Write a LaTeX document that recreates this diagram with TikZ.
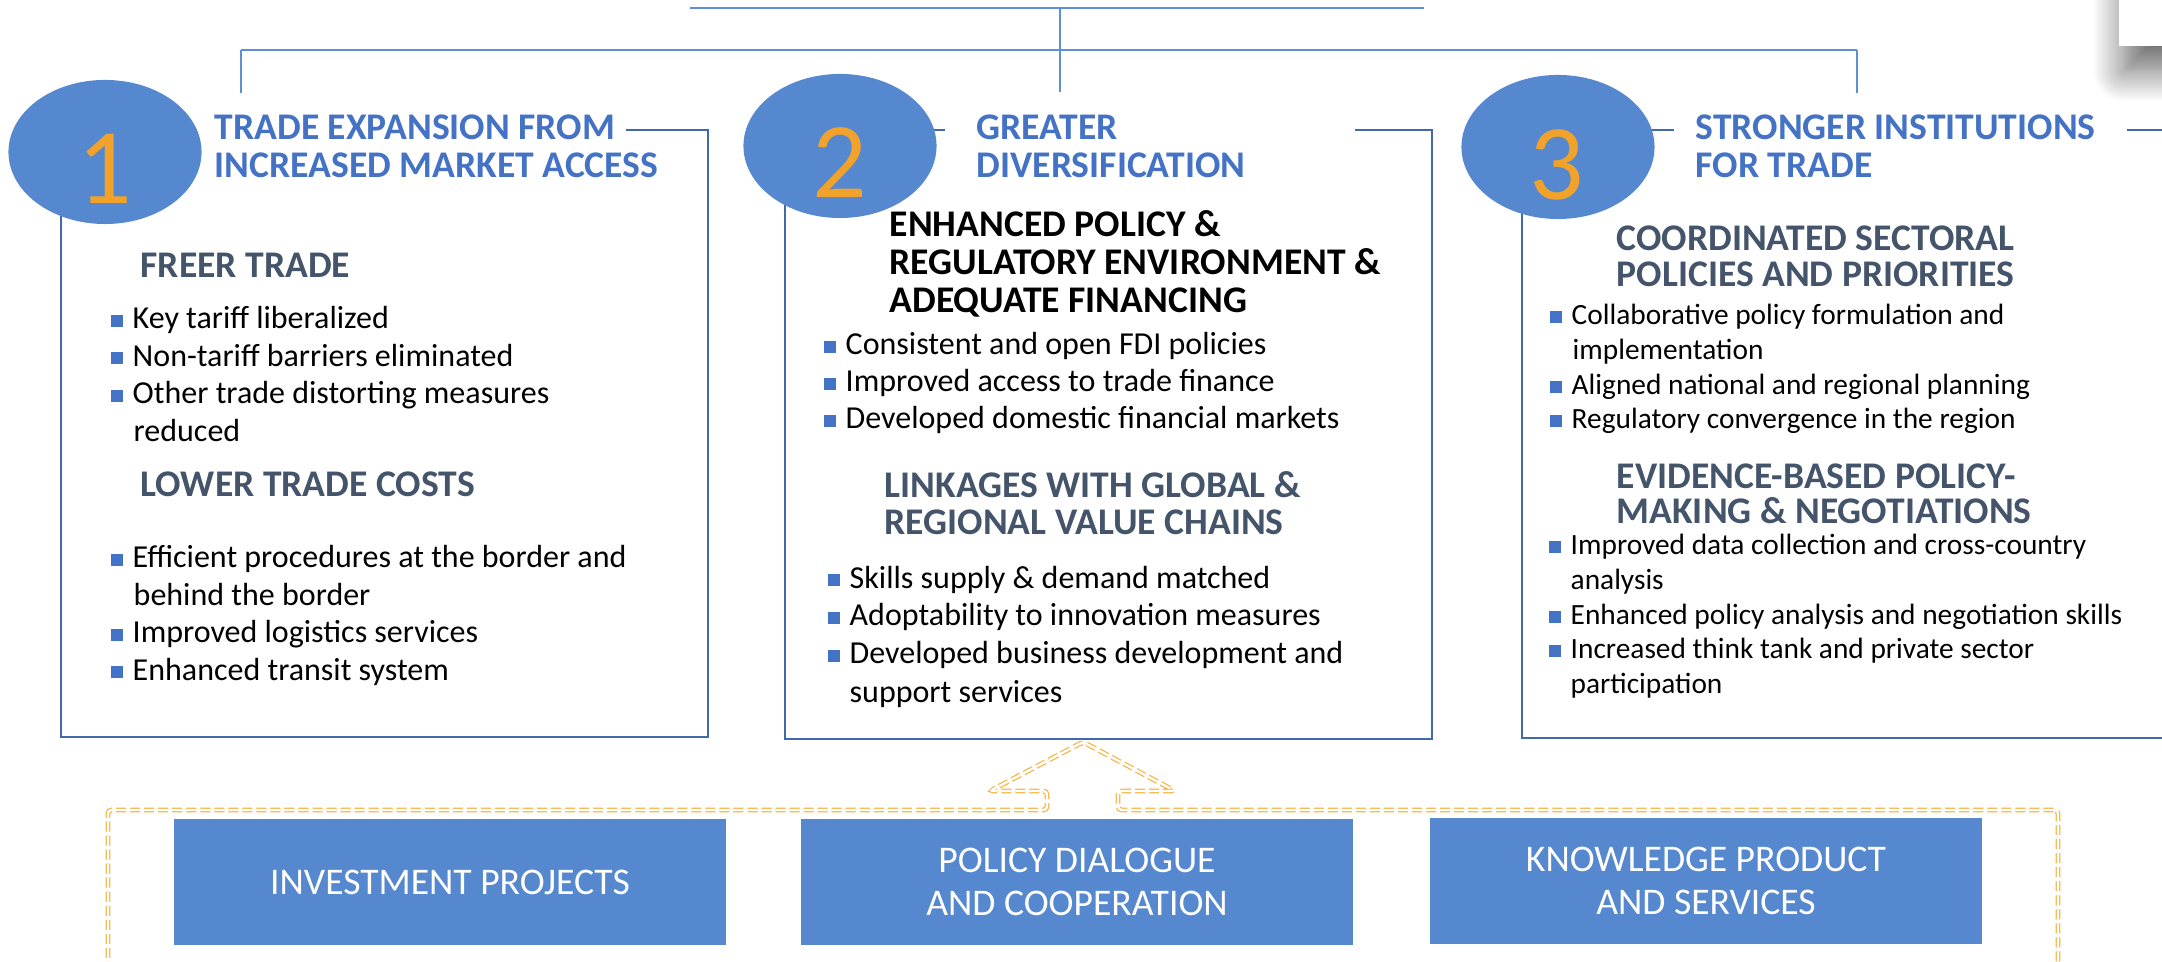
\documentclass[tikz,border=0pt]{standalone}
\usepackage{fontspec}
\setmainfont{Carlito}
\usetikzlibrary{shapes.geometric,shadows.blur}

\definecolor{circblue}{RGB}{85,136,207}
\definecolor{framblue}{RGB}{66,106,168}
\definecolor{linkblue}{RGB}{91,143,217}
\definecolor{titleblue}{RGB}{68,114,196}
\definecolor{headslate}{RGB}{68,84,106}
\definecolor{digitorange}{RGB}{240,162,42}
\definecolor{dashorange}{RGB}{248,180,62}

\newcommand{\sqb}{\textcolor{titleblue}{\rule[0.02cm]{0.12cm}{0.12cm}}\hspace{0.1cm}}

\begin{document}
\begin{tikzpicture}[x=0.01cm,y=-0.01cm,
    every node/.style={inner sep=0pt},
    boxframe/.style={draw=framblue,line width=0.8pt},
    linkline/.style={draw=linkblue,line width=0.45pt},
    circbadge/.style={ellipse,fill=circblue,minimum width=1.93cm,minimum height=1.44cm},
    digitlbl/.style={text=digitorange,font=\fontsize{30.6}{30.6}\selectfont},
    titlelbl/.style={anchor=base west,text=titleblue,font=\fontsize{10.7}{11}\selectfont\bfseries},
    headlbl/.style={anchor=base west,text=headslate,font=\fontsize{10.7}{11}\selectfont\bfseries},
    itemlbl/.style={anchor=base west,font=\fontsize{9.1}{11}\selectfont},
    smallitem/.style={anchor=base west,font=\fontsize{8.35}{10}\selectfont},
    actionbox/.style={fill=circblue,text=white,align=center,minimum width=5.52cm,minimum height=1.26cm,font=\fontsize{10.7}{12.2}\selectfont},
    supportline/.style={draw=dashorange,line width=0.34pt,double=white,double distance=0.7pt,dash pattern=on 2.85pt off 1.14pt,rounded corners=1pt}]

\useasboundingbox (0,0) rectangle (2162,962);
\clip (0,0) rectangle (2162,962);

\node[fill=white,minimum width=1cm,minimum height=1.06cm,blur shadow={shadow xshift=1.5pt,shadow yshift=-7pt,shadow blur radius=9pt,shadow blur steps=16,shadow opacity=60}] (tab) at (2169,-7) {};

\coordinate (hubL) at (690,8);
\coordinate (hubR) at (1424,8);
\coordinate (hub) at (1060,8);
\coordinate (busL) at (241,50);
\coordinate (busR) at (1857,50);
\coordinate (dropL) at (241,93);
\coordinate (dropM) at (1060,92);
\coordinate (dropR) at (1857,93);

\draw[linkline,line width=0.5pt] (hubL) -- (hubR);
\draw[linkline] (hub) -- (dropM);
\draw[linkline,line width=0.65pt] (busL) -- (busR);
\draw[linkline] (busL) -- (dropL);
\draw[linkline] (busR) -- (dropR);

\draw[boxframe] (61,130) rectangle (708,737);
\draw[boxframe] (785,130) rectangle (1432,739);
\draw[boxframe] (1522,130) rectangle (2240,738);

\fill[white] (197,112) rectangle (626,150);
\fill[white] (945,112) rectangle (1355,150);
\fill[white] (1674,112) rectangle (2127,150);

\node[circbadge] (c1) at (105,152) {};
\node[circbadge] (c2) at (840,146) {};
\node[circbadge] (c3) at (1558,147) {};
\node[digitlbl] (d1) at (105,169) {1};
\node[digitlbl] (d2) at (840,163) {2};
\node[digitlbl] (d3) at (1557,165) {3};

\node[titlelbl] (t1a) at (214,140) {TRADE EXPANSION FROM};
\node[titlelbl] (t1b) at (214,178) {INCREASED MARKET ACCESS};
\node[titlelbl] (t2a) at (976,140) {GREATER};
\node[titlelbl] (t2b) at (976,178) {DIVERSIFICATION};
\node[titlelbl] (t3a) at (1695,140) {STRONGER INSTITUTIONS};
\node[titlelbl] (t3b) at (1695,178) {FOR TRADE};

\node[headlbl] (h1a) at (140,278) {FREER TRADE};
\node[itemlbl] (i1a) at (110,329) {\sqb Key tariff liberalized};
\node[itemlbl] (i1b) at (110,366.5) {\sqb Non-tariff barriers eliminated};
\node[itemlbl] (i1c) at (110,404) {\sqb Other trade distorting measures};
\node[itemlbl] (i1d) at (133,441.5) {reduced};
\node[headlbl] (h1b) at (140,497) {LOWER TRADE COSTS};
\node[itemlbl] (i1e) at (110,568) {\sqb Efficient procedures at the border and};
\node[itemlbl] (i1f) at (133,605.5) {behind the border};
\node[itemlbl] (i1g) at (110,643) {\sqb Improved logistics services};
\node[itemlbl] (i1h) at (110,680.5) {\sqb Enhanced transit system};

\node[headlbl,text=black] (h2a) at (889,237) {ENHANCED POLICY \&};
\node[headlbl,text=black] (h2b) at (889,275) {REGULATORY ENVIRONMENT \&};
\node[headlbl,text=black] (h2c) at (889,312.5) {ADEQUATE FINANCING};
\node[itemlbl] (i2a) at (823,355) {\sqb Consistent and open FDI policies};
\node[itemlbl] (i2b) at (823,392) {\sqb Improved access to trade finance};
\node[itemlbl] (i2c) at (823,429) {\sqb Developed domestic financial markets};
\node[headlbl] (h2d) at (884,498) {LINKAGES WITH GLOBAL \&};
\node[headlbl] (h2e) at (884,535) {REGIONAL VALUE CHAINS};
\node[itemlbl] (i2d) at (827,588.5) {\sqb Skills supply \& demand matched};
\node[itemlbl] (i2e) at (827,626) {\sqb Adoptability to innovation measures};
\node[itemlbl] (i2f) at (827,664) {\sqb Developed business development and};
\node[itemlbl] (i2g) at (849,703) {support services};

\node[headlbl] (h3a) at (1616,251) {COORDINATED SECTORAL};
\node[headlbl] (h3b) at (1616,287) {POLICIES AND PRIORITIES};
\node[smallitem] (i3a) at (1549,325) {\sqb Collaborative policy formulation and};
\node[smallitem] (i3b) at (1572,360) {implementation};
\node[smallitem] (i3c) at (1549,395) {\sqb Aligned national and regional planning};
\node[smallitem] (i3d) at (1549,429) {\sqb Regulatory convergence in the region};
\node[headlbl] (h3c) at (1616,489) {EVIDENCE-BASED POLICY-};
\node[headlbl] (h3d) at (1616,524) {MAKING \& NEGOTIATIONS};
\node[smallitem] (i3e) at (1548,555) {\sqb Improved data collection and cross-country};
\node[smallitem] (i3f) at (1570,590) {analysis};
\node[smallitem] (i3g) at (1548,625) {\sqb Enhanced policy analysis and negotiation skills};
\node[smallitem] (i3h) at (1548,659) {\sqb Increased think tank and private sector};
\node[smallitem] (i3i) at (1570,694) {participation};

\draw[supportline] (108,1000) -- (108,810) -- (1047,810) -- (1047,791) -- (990,791) -- (1083,742)
    -- (1175,791) -- (1118,791) -- (1118,810) -- (2058,810) -- (2058,1000);

\node[actionbox] (inv) at (450,882) {INVESTMENT PROJECTS};
\node[actionbox] (pol) at (1077,882) {POLICY DIALOGUE\\AND COOPERATION};
\node[actionbox] (kno) at (1706,881) {KNOWLEDGE PRODUCT\\AND SERVICES};
\end{tikzpicture}
\end{document}
